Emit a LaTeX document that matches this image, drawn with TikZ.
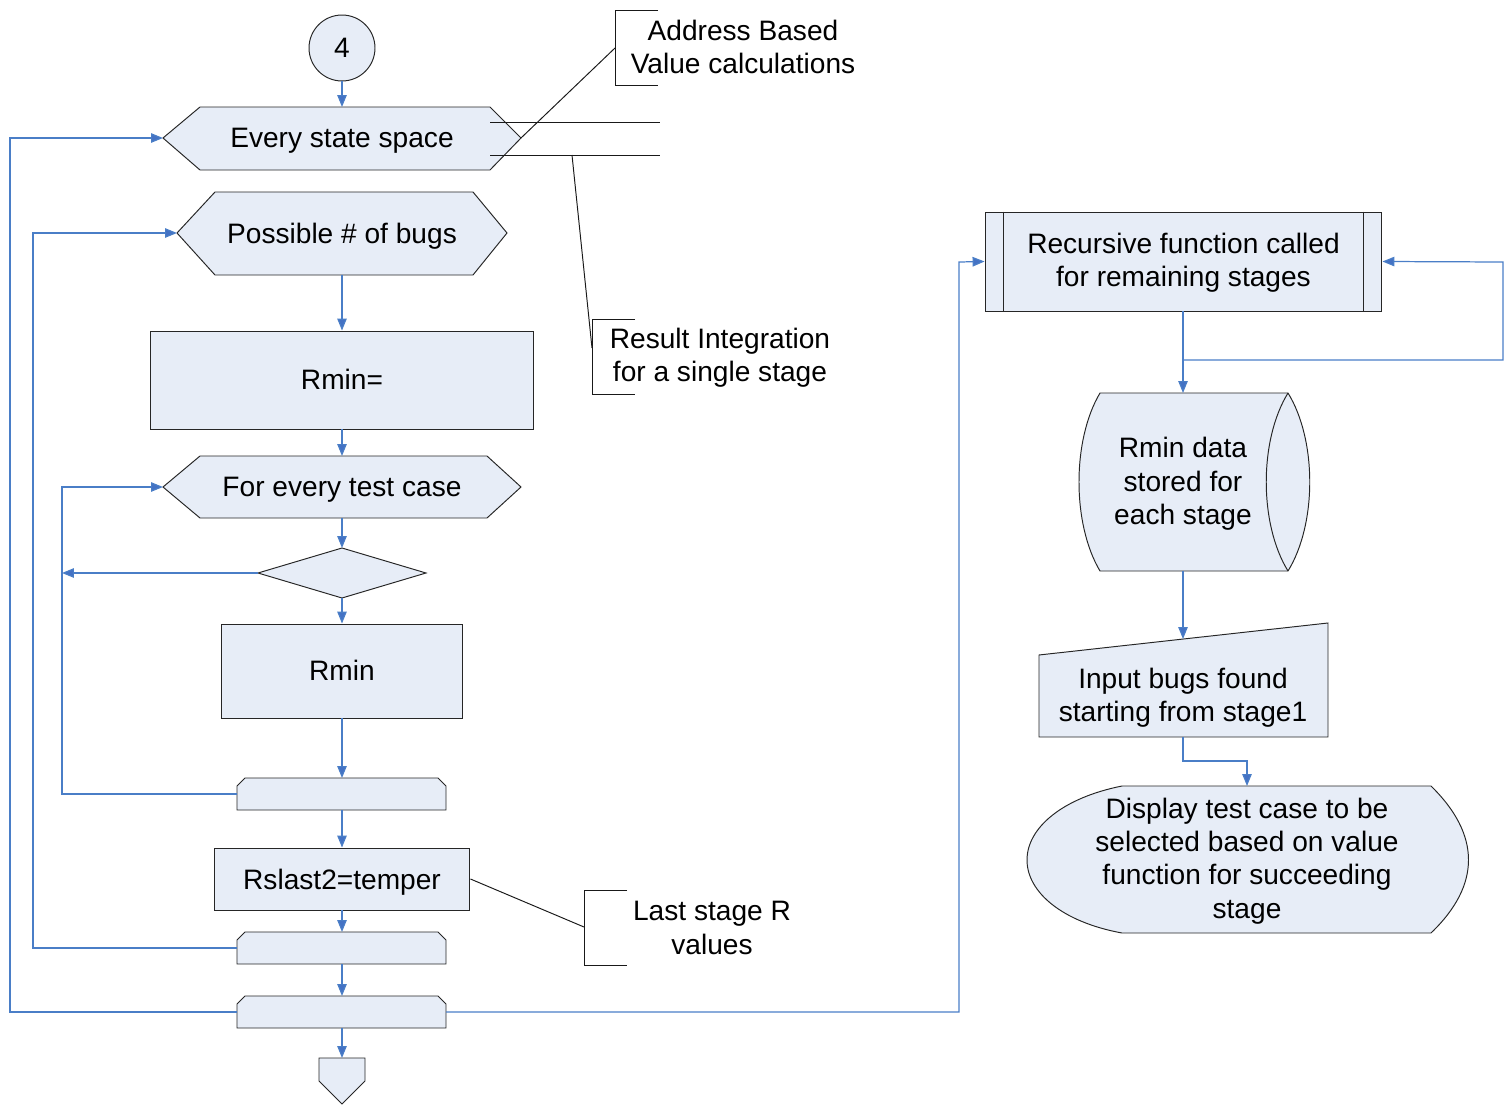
\documentclass[tikz,border=0pt]{standalone}
\usepackage{fontspec}
\setmainfont{Liberation Sans}
\usetikzlibrary{arrows.meta}
\definecolor{shapefill}{HTML}{E7EDF7}
\definecolor{flowblue}{HTML}{4A7EC7}
\definecolor{tipblue}{HTML}{4472C4}

\begin{document}
\begin{tikzpicture}[x=0.02cm,y=-0.02cm,
  shapeline/.style={draw=black!85, line width=0.55pt, fill=shapefill},
  flowline/.style={draw=flowblue, line width=0.7pt},
  flow/.style={flowline, -{Triangle[length=0.24cm,width=0.19cm,fill=tipblue]}},
  note/.style={draw=black!90, line width=0.55pt},
  txt/.style={font=\fontsize{16}{19}\selectfont, align=center, inner sep=0pt},
  lbl/.style={txt, yshift=-0.06cm},
]
\useasboundingbox (0,0) rectangle (1509,1112);

% ---------- left column: nested loops ----------
\node[shapeline, circle, minimum size=1.32cm, txt] (start) at (342,48) {4};

\path[shapeline] (163,138) coordinate (hexA-w) -- (200,107) -- (490,107) -- (521,138) coordinate (hexA-e)
  -- (490,170) -- (200,170) -- cycle;
\coordinate (hexA-n) at (342,107);
\node[lbl] (hexA) at (342,138) {Every state space};

\path[shapeline] (177,233) coordinate (hexB-w) -- (215,192) -- (473,192) -- (507,233)
  -- (473,275) -- (215,275) -- cycle;
\coordinate (hexB-s) at (342,275);
\node[lbl] (hexB) at (342,233) {Possible \# of bugs};

\node[shapeline, rectangle, minimum width=7.68cm, minimum height=1.96cm] (rminq) at (342,380) {};
\node[lbl] (rminqtext) at (342,376) {Rmin=};

\path[shapeline] (163,487) coordinate (hexC-w) -- (200,456) -- (487,456) -- (521,487)
  -- (487,518) -- (200,518) -- cycle;
\coordinate (hexC-n) at (342,456);
\coordinate (hexC-s) at (342,518);
\node[lbl] (hexC) at (342,487) {For every test case};

\path[shapeline] (258,573) coordinate (dia-w) -- (342,548) coordinate (dia-n)
  -- (426,573) -- (342,598) coordinate (dia-s) -- cycle;
\coordinate (dia-out) at (62,573);

\node[shapeline, rectangle, minimum width=4.84cm, minimum height=1.88cm] (rmin) at (342,671) {};
\node[lbl] (rmintext) at (342,667) {Rmin};

% loop limit shapes
\path[shapeline] (237,810) -- (237,786) -- (245,778) -- (438,778) -- (446,786) -- (446,810) -- cycle;
\coordinate (le1-n) at (342,778); \coordinate (le1-s) at (342,810); \coordinate (le1-w) at (237,794);

\node[shapeline, rectangle, minimum width=5.12cm, minimum height=1.24cm] (rs) at (342,879) {};
\node[lbl] (rstext) at (rs) {Rslast2=temper};

\path[shapeline] (237,964) -- (237,940) -- (245,932) -- (438,932) -- (446,940) -- (446,964) -- cycle;
\coordinate (le2-n) at (342,932); \coordinate (le2-s) at (342,964); \coordinate (le2-w) at (237,948);

\path[shapeline] (237,1028) -- (237,1004) -- (245,996) -- (438,996) -- (446,1004) -- (446,1028) -- cycle;
\coordinate (le3-n) at (342,996); \coordinate (le3-s) at (342,1028);
\coordinate (le3-w) at (237,1012); \coordinate (le3-e) at (446,1012);

% off-page reference
\path[shapeline] (319,1058) -- (365,1058) -- (365,1081) -- (342,1104) -- (319,1081) -- cycle;
\coordinate (off-n) at (342,1058);

% ---------- annotations ----------
\draw[note] (658,10) -- (615,10) -- (615,85) -- (658,85);
\coordinate (noteA) at (615,48);
\draw[note] (noteA) -- (hexA-e);
\node[lbl] (noteAtext) at (743,44) {Address Based\\Value calculations};
\draw[note] (490,122) -- (660,122);
\draw[note] (490,155) -- (660,155);

\draw[note] (635,319) -- (592,319) -- (592,394) -- (635,394);
\coordinate (noteB) at (592,348);
\coordinate (noteBend) at (572,155);
\draw[note] (noteB) -- (noteBend);
\node[lbl] (noteBtext) at (720,355) {Result Integration\\for a single stage};

\draw[note] (627,890) -- (584,890) -- (584,965) -- (627,965);
\coordinate (noteC) at (584,927);
\draw[note] (noteC) -- (rs.east);
\node[lbl] (noteCtext) at (712,925) {Last stage R\\values};

% ---------- right column ----------
\node[shapeline, rectangle, minimum width=7.94cm, minimum height=1.98cm] (rec) at (1183.5,261.5) {};
\node[lbl] (rectext) at (1183.5,260) {Recursive function called\\for remaining stages};
\draw[black!85, line width=0.55pt] ([xshift=0.38cm]rec.north west) -- ([xshift=0.38cm]rec.south west);
\draw[black!85, line width=0.55pt] ([xshift=-0.38cm]rec.north east) -- ([xshift=-0.38cm]rec.south east);

\path[shapeline] (1100,393) -- (1288,393)
  .. controls (1317,440) and (1317,524) .. (1288,571) -- (1100,571)
  .. controls (1072,524) and (1072,440) .. (1100,393) -- cycle;
\draw[black!85, line width=0.55pt] (1288,393) .. controls (1259,440) and (1259,524) .. (1288,571);
\coordinate (stored-n) at (1183,393);
\coordinate (stored-s) at (1183,571);
\node[lbl] (stored) at (1183,481) {Rmin data\\stored for\\each stage};

\path[shapeline] (1039,655) -- (1328,623) -- (1328,737) -- (1039,737) -- cycle;
\coordinate (inp-n) at (1183,639);
\coordinate (inp-s) at (1183,737);
\node[lbl] (inp) at (1183,695) {Input bugs found\\starting from stage1};

\path[shapeline] (1122,786) -- (1431,786)
  .. controls (1481,835) and (1481,885) .. (1431,933) -- (1122,933)
  .. controls (1062,922) and (1027,892) .. (1027,860)
  .. controls (1027,828) and (1062,798) .. (1122,786) -- cycle;
\coordinate (disp-n) at (1247,786);
\node[lbl] (disp) at (1247,858) {Display test case to be\\selected based on value\\function for succeeding\\stage};

% ---------- connectors ----------
\draw[flow] (start.south) -- (hexA-n);
\draw[flow] (hexB-s) -- (rminq.north);
\draw[flow] (rminq.south) -- (hexC-n);
\draw[flow] (hexC-s) -- (dia-n);
\draw[flow] (dia-s) -- (rmin.north);
\draw[flow] (dia-w) -- (dia-out);
\draw[flow] (rmin.south) -- (le1-n);
\draw[flow] (le1-w) -| (dia-out) |- (hexC-w);
\draw[flow] (le1-s) -- (rs.north);
\draw[flow] (rs.south) -- (le2-n);
\draw[flow] (le2-w) -| (33,233) -- (hexB-w);
\draw[flow] (le2-s) -- (le3-n);
\draw[flow] (le3-w) -| (10,138) -- (hexA-w);
\draw[flow] (le3-s) -- (off-n);
\draw[flow] (le3-e) -| (959,262) -- (rec.west);

\coordinate (recsplit) at (1183,360);
\draw[flow] (rec.south -| stored-n) -- (stored-n);
\draw[flow] (recsplit) -| (1503,262) -- (rec.east);
\draw[flow] (stored-s) -- (inp-n);
\draw[flow] (inp-s) -- (1183,761) -| (disp-n);
\end{tikzpicture}
\end{document}
